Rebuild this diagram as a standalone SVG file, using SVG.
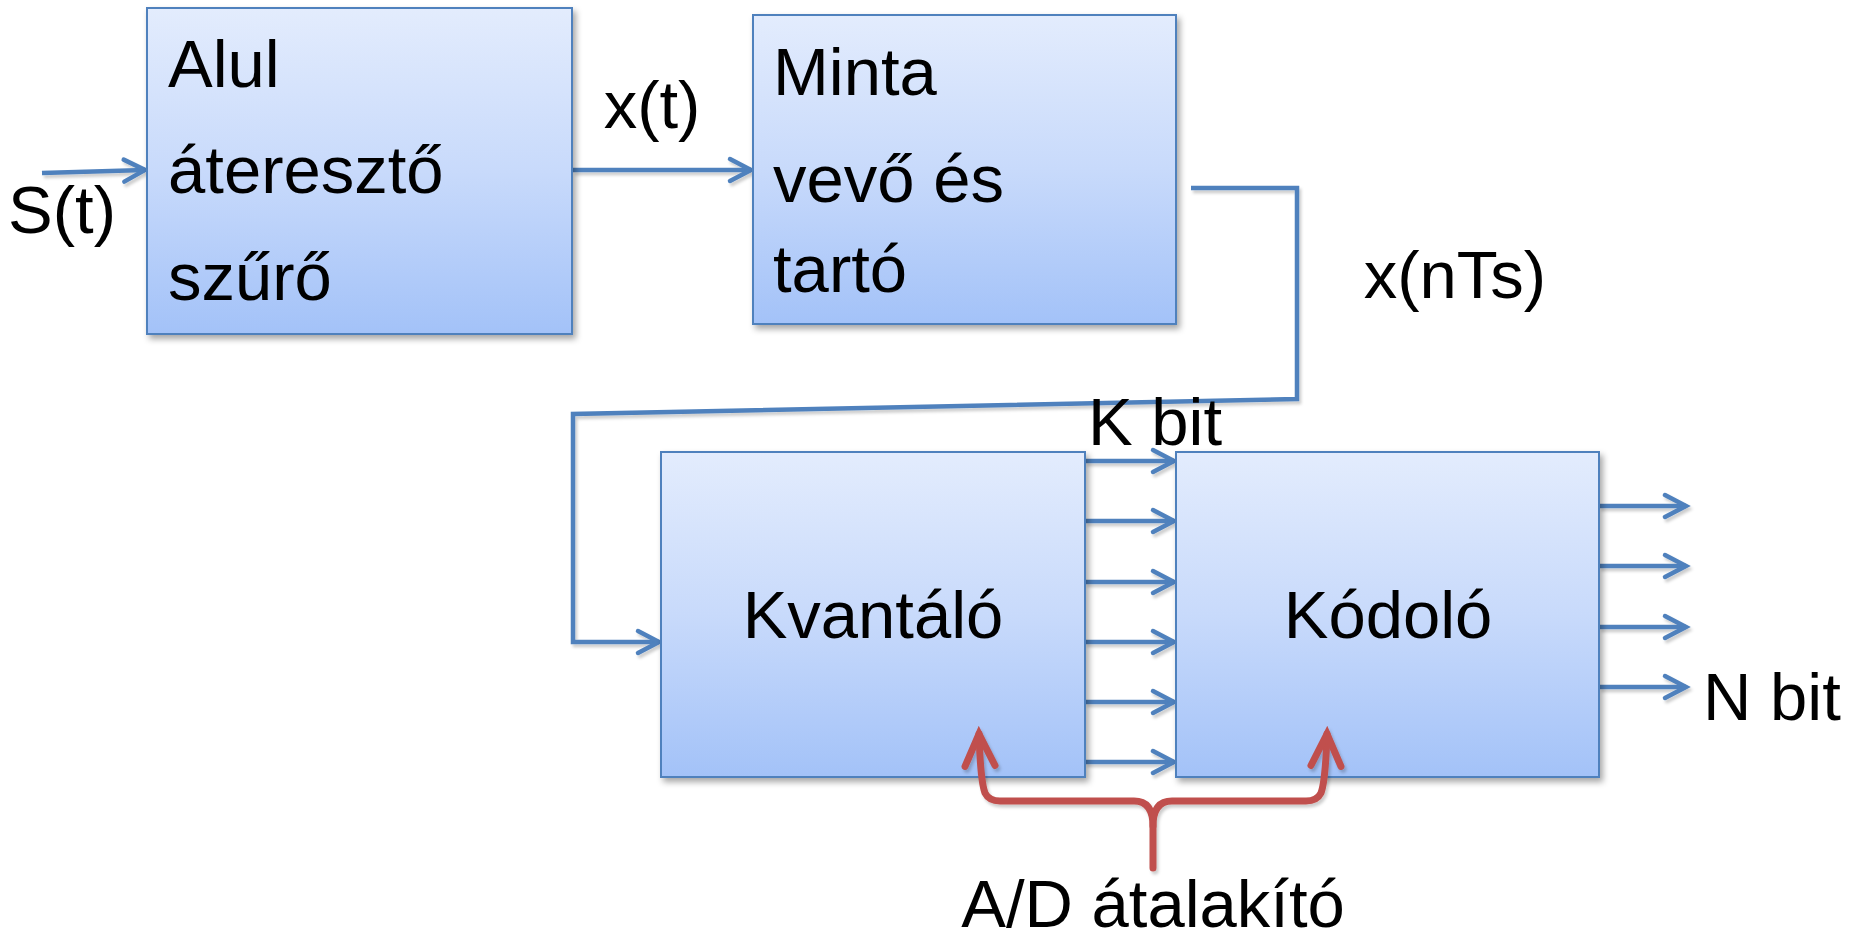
<svg xmlns="http://www.w3.org/2000/svg" width="1860" height="941" viewBox="0 0 1860 941">
<defs>
<linearGradient id="boxfill" x1="0" y1="0" x2="0" y2="1">
<stop offset="0" stop-color="#E3ECFD"/>
<stop offset="0.5" stop-color="#C8DAFB"/>
<stop offset="1" stop-color="#A3C2F8"/>
</linearGradient>
<filter id="shadow" x="-10%" y="-10%" width="130%" height="130%">
<feDropShadow dx="3" dy="4" stdDeviation="3" flood-color="#000" flood-opacity="0.35"/>
</filter>
<filter id="lshadow" filterUnits="userSpaceOnUse" x="0" y="0" width="1860" height="941">
<feDropShadow dx="2" dy="3" stdDeviation="1.5" flood-color="#000" flood-opacity="0.2"/>
</filter>
<marker id="barrow" markerUnits="userSpaceOnUse" viewBox="-26 -15 30 30" refX="0" refY="0" markerWidth="30" markerHeight="30" orient="auto" overflow="visible">
<path d="M -21,-11 L 0,0 L -21,11" fill="none" stroke="#4F81BD" stroke-width="4.5" stroke-linecap="round" stroke-linejoin="miter"/>
</marker>
<marker id="rarrow" markerUnits="userSpaceOnUse" viewBox="-40 -20 44 40" refX="0" refY="0" markerWidth="44" markerHeight="40" orient="auto-start-reverse" overflow="visible">
<path d="M -32,-15 L 0,0 L -32,15" fill="none" stroke="#C0504D" stroke-width="7" stroke-linecap="round" stroke-linejoin="miter"/>
</marker>
</defs>
<style>
.box { fill: url(#boxfill); stroke: #4F81BD; stroke-width: 2; filter: url(#shadow); }
.lbl { font-family: "Liberation Sans", Arial, sans-serif; font-size: 67px; fill: #000; }
.mid { text-anchor: middle; }
.conn { fill: none; stroke: #4F81BD; stroke-width: 4.5; stroke-linejoin: miter; }
.arr { marker-end: url(#barrow); }
.brace { fill: none; stroke: #C0504D; stroke-width: 7; stroke-linecap: round; stroke-linejoin: round; }
</style>

<g id="connectors" filter="url(#lshadow)">
<path class="conn arr" d="M 42,173 L 145,170"/>
<path class="conn arr" d="M 573,170 L 751,170"/>
<path class="conn arr" d="M 1191,188 L 1297,188 L 1297,399 L 573,414 L 573,642 L 659,642"/>
<path class="conn arr" d="M 1085,461 L 1174,461"/>
<path class="conn arr" d="M 1085,521 L 1174,521"/>
<path class="conn arr" d="M 1085,582 L 1174,582"/>
<path class="conn arr" d="M 1085,642 L 1174,642"/>
<path class="conn arr" d="M 1085,702 L 1174,702"/>
<path class="conn arr" d="M 1085,762 L 1174,762"/>
<path class="conn arr" d="M 1599,506 L 1686,506"/>
<path class="conn arr" d="M 1599,566 L 1686,566"/>
<path class="conn arr" d="M 1599,627 L 1686,627"/>
<path class="conn arr" d="M 1599,687 L 1686,687"/>
</g>

<g id="node-aluláteresztő">
<rect class="box" x="147" y="8" width="425" height="326"/>
<text class="lbl" x="168" y="87">Alul</text>
<text class="lbl" x="168" y="193">áteresztő</text>
<text class="lbl" x="168" y="300">szűrő</text>
</g>

<g id="node-mintavevő">
<rect class="box" x="753" y="15" width="423" height="309"/>
<text class="lbl" x="773" y="95">Minta</text>
<text class="lbl" x="773" y="202">vevő és</text>
<text class="lbl" x="773" y="292">tartó</text>
</g>

<g id="node-kvantáló">
<rect class="box" x="661" y="452" width="424" height="325"/>
<text class="lbl mid" x="873" y="638">Kvantáló</text>
</g>

<g id="node-kódoló">
<rect class="box" x="1176" y="452" width="423" height="325"/>
<text class="lbl mid" x="1388" y="638">Kódoló</text>
</g>

<g id="brace" filter="url(#lshadow)">
<path class="brace" marker-start="url(#rarrow)" d="M 979,734 C 980,765 982,785 985,793 Q 989,801 1000,801 L 1134,801 Q 1153,801 1153,826 L 1153,868"/>
<path class="brace" marker-end="url(#rarrow)" d="M 1153,826 Q 1153,801 1172,801 L 1306,801 Q 1317,801 1321,793 C 1324,785 1326,765 1327,734"/>
</g>

<g id="labels">
<text class="lbl mid" x="62" y="233">S(t)</text>
<text class="lbl mid" x="652" y="128">x(t)</text>
<text class="lbl mid" x="1455" y="298">x(nTs)</text>
<text class="lbl" x="1088" y="445">K bit</text>
<text class="lbl" x="1703" y="720">N bit</text>
<text class="lbl mid" x="1153" y="927">A/D átalakító</text>
</g>
</svg>
